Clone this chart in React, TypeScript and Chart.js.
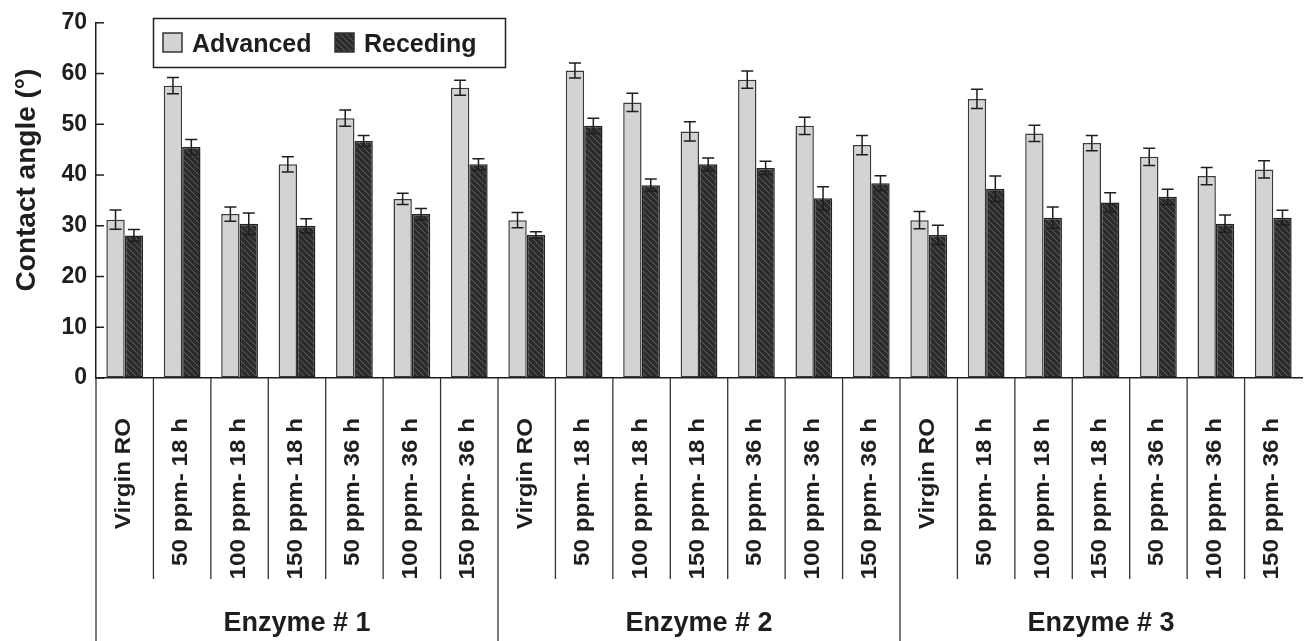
import React, { useEffect, useRef } from "react";
import { Chart, registerables } from "chart.js";

Chart.register(...registerables);

const groups = ["Enzyme # 1", "Enzyme # 2", "Enzyme # 3"];
const conditions = [
  "Virgin RO",
  "50 ppm- 18 h",
  "100 ppm- 18 h",
  "150 ppm- 18 h",
  "50 ppm- 36 h",
  "100 ppm- 36 h",
  "150 ppm- 36 h",
];
const categories = groups.flatMap(() => conditions);

const seriesNames = ["Advanced", "Receding"];
const advanced = [31.2, 57.6, 32.3, 42.1, 51.2, 35.3, 57.2, 31.1, 60.6, 54.3, 48.6, 58.8, 49.7, 45.9, 31.1, 55.0, 48.2, 46.3, 43.6, 39.8, 41.1];
const advancedErr = [1.9, 1.6, 1.4, 1.5, 1.6, 1.1, 1.5, 1.5, 1.5, 1.8, 1.9, 1.7, 1.7, 1.9, 1.7, 1.9, 1.6, 1.5, 1.7, 1.7, 1.7];
const receding = [28.1, 45.5, 30.4, 30.0, 46.7, 32.3, 42.1, 28.2, 49.7, 38.0, 42.1, 41.4, 35.4, 38.4, 28.2, 37.3, 31.6, 34.6, 35.7, 30.4, 31.6];
const recedingErr = [1.15, 1.5, 2.1, 1.4, 1.1, 1.1, 1.1, 0.6, 1.5, 1.2, 1.25, 1.3, 2.3, 1.45, 1.9, 2.5, 2.1, 1.9, 1.5, 1.7, 1.45];
const yTicks = [0, 10, 20, 30, 40, 50, 60, 70];
const yTitle = "Contact angle (°)";

const FONT = "'Liberation Sans', Arial, Helvetica, sans-serif";
const INK = "#1e1e1e";
const LIGHT = "#d3d3d3";

function makePattern(): CanvasPattern | string {
  const t = document.createElement("canvas");
  t.width = 6;
  t.height = 6;
  const c = t.getContext("2d");
  if (!c) return "#333";
  c.fillStyle = "#2c2c2c";
  c.fillRect(0, 0, 6, 6);
  c.strokeStyle = "#5c5c5c";
  c.lineWidth = 1;
  for (const k of [-6, 0, 6]) {
    c.beginPath();
    c.moveTo(k, 0);
    c.lineTo(k + 6, 6);
    c.stroke();
  }
  const p = c.createPattern(t, "repeat");
  return p || "#333";
}

export default function App() {
  const ref = useRef<HTMLCanvasElement | null>(null);

  useEffect(() => {
    document.body.style.margin = "0";
    const canvas = ref.current;
    if (!canvas) return;
    const pattern = makePattern();
    const errs = [advancedErr, recedingErr];

    const decor = {
      id: "decor",
      afterDatasetsDraw(chart: any) {
        const ctx = chart.ctx as CanvasRenderingContext2D;
        const y = chart.scales.y;
        ctx.save();
        ctx.strokeStyle = INK;
        ctx.lineWidth = 1.5;
        chart.data.datasets.forEach((ds: any, d: number) => {
          const meta = chart.getDatasetMeta(d);
          meta.data.forEach((bar: any, i: number) => {
            const v = ds.data[i];
            const e = errs[d][i];
            const yt = y.getPixelForValue(v + e);
            const yb = y.getPixelForValue(v - e);
            const x = bar.x;
            ctx.beginPath();
            ctx.moveTo(x, yt);
            ctx.lineTo(x, yb);
            ctx.moveTo(x - 6, yt);
            ctx.lineTo(x + 6, yt);
            ctx.moveTo(x - 6, yb);
            ctx.lineTo(x + 6, yb);
            ctx.stroke();
          });
        });
        ctx.restore();
      },
      afterDraw(chart: any) {
        const ctx = chart.ctx as CanvasRenderingContext2D;
        const x = chart.scales.x;
        const y = chart.scales.y;
        const area = chart.chartArea;
        const n = categories.length;
        const w = (area.right - area.left) / n;
        ctx.save();
        // inward ticks
        ctx.strokeStyle = INK;
        ctx.lineWidth = 1.5;
        yTicks.forEach((v) => {
          const py = y.getPixelForValue(v);
          ctx.beginPath();
          ctx.moveTo(area.left, py);
          ctx.lineTo(area.left + 8, py);
          ctx.stroke();
        });
        // separators
        ctx.lineWidth = 1.3;
        ctx.strokeStyle = "#333";
        for (let i = 0; i < n; i++) {
          const bx = x.getPixelForValue(i) - w / 2;
          const long = i % conditions.length === 0;
          ctx.beginPath();
          ctx.moveTo(bx, area.bottom);
          ctx.lineTo(bx, long ? 641 : 579);
          ctx.stroke();
        }
        // category labels (rotated)
        ctx.fillStyle = INK;
        ctx.font = `bold 22px ${FONT}`;
        ctx.textAlign = "right";
        ctx.textBaseline = "middle";
        categories.forEach((lab, i) => {
          const cx = x.getPixelForValue(i) - 1;
          ctx.save();
          ctx.translate(cx, area.bottom + 40);
          ctx.rotate(-Math.PI / 2);
          ctx.scale(1.1, 1);
          ctx.fillText(lab, 0, 0);
          ctx.restore();
        });
        // group labels
        ctx.font = `bold 27px ${FONT}`;
        ctx.textAlign = "center";
        groups.forEach((g, gi) => {
          const a = gi * conditions.length;
          const b = a + conditions.length - 1;
          const cx = (x.getPixelForValue(a) + x.getPixelForValue(b)) / 2;
          ctx.fillText(g, cx, 624);
        });
        // y title
        ctx.save();
        ctx.font = `bold 28px ${FONT}`;
        ctx.translate(27, 180);
        ctx.rotate(-Math.PI / 2);
        ctx.textAlign = "center";
        ctx.textBaseline = "middle";
        ctx.fillText(yTitle, 0, 0);
        ctx.restore();
        // legend
        ctx.lineWidth = 1.5;
        ctx.strokeStyle = INK;
        ctx.fillStyle = "#ffffff";
        ctx.fillRect(153.5, 18.5, 352, 49);
        ctx.strokeRect(153.5, 18.5, 352, 49);
        const items = [
          { x: 163, fill: LIGHT as any, label: seriesNames[0] },
          { x: 335, fill: pattern as any, label: seriesNames[1] },
        ];
        ctx.font = `bold 25px ${FONT}`;
        ctx.textAlign = "left";
        ctx.textBaseline = "alphabetic";
        items.forEach((it) => {
          ctx.fillStyle = it.fill;
          ctx.fillRect(it.x, 33, 19, 19);
          ctx.strokeStyle = "#333";
          ctx.strokeRect(it.x, 33, 19, 19);
          ctx.fillStyle = INK;
          ctx.fillText(it.label, it.x + 29, 52);
        });
        ctx.restore();
      },
    };

    const chart = new Chart(canvas, {
      type: "bar",
      data: {
        labels: categories,
        datasets: [
          {
            label: seriesNames[0],
            data: advanced,
            backgroundColor: LIGHT,
            borderColor: "#3a3a3a",
            borderWidth: 1.5,
            borderSkipped: false,
            categoryPercentage: 0.64,
            barPercentage: 1.0,
          },
          {
            label: seriesNames[1],
            data: receding,
            backgroundColor: pattern as any,
            borderColor: "#222",
            borderWidth: 1.5,
            borderSkipped: false,
            categoryPercentage: 0.64,
            barPercentage: 1.0,
          },
        ],
      },
      options: {
        responsive: false,
        animation: false,
        layout: { padding: { top: 22, right: 4, left: 0, bottom: 0 } },
        plugins: {
          legend: { display: false },
          tooltip: { enabled: false },
          title: { display: false },
        },
        scales: {
          x: {
            ticks: { display: false },
            grid: { display: true, drawOnChartArea: false, drawTicks: false },
            border: { display: true, color: INK, width: 1.5 },
            afterFit: (s: any) => {
              s.height = 263;
            },
          },
          y: {
            min: 0,
            max: 70,
            ticks: {
              stepSize: 10,
              color: INK,
              padding: 9,
              font: { family: FONT, size: 23, weight: "bold" },
            },
            grid: { display: true, drawOnChartArea: false, drawTicks: false },
            border: { display: true, color: INK, width: 1.5 },
            afterFit: (s: any) => {
              s.width = 96;
            },
          },
        },
      },
      plugins: [decor],
    });
    return () => chart.destroy();
  }, []);

  return (
    <div style={{ width: 1306, height: 641, background: "#fff" }}>
      <canvas ref={ref} width={1306} height={641} style={{ display: "block" }} />
    </div>
  );
}
